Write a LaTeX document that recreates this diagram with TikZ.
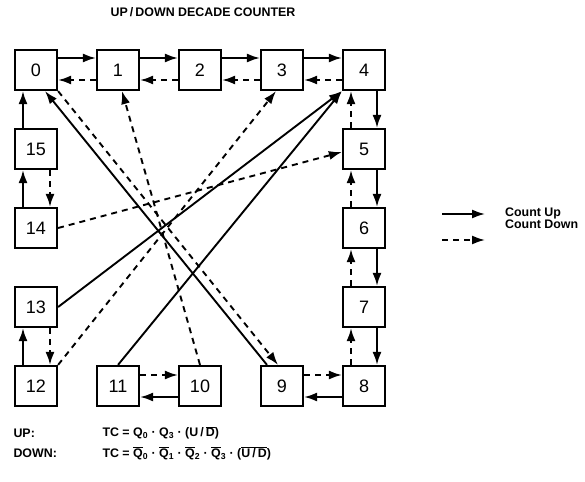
\documentclass[tikz,border=0pt]{standalone}
\usepackage{fontspec}
\setmainfont{Liberation Sans}
\usetikzlibrary{arrows.meta}

\begin{document}
\begin{tikzpicture}[x=1pt,y=-1pt,
  box/.style={draw, line width=2.2pt, fill=white, minimum width=42pt, minimum height=40pt, inner sep=0pt, font=\fontsize{18}{18}\selectfont},
  up/.style={line width=1.9pt, -{Latex[length=13pt,width=9pt]}},
  dn/.style={up, dash pattern=on 6pt off 5pt},
  lbl/.style={font=\bfseries\fontsize{12.4}{11.5}\selectfont}]
\useasboundingbox (0,0) rectangle (585,481);

\node[lbl] (title) at (203,12) {UP\,/\,DOWN DECADE COUNTER};

% top row
\node[box] (n0) at (36,70) {0};
\node[box] (n1) at (118,70) {1};
\node[box] (n2) at (200,70) {2};
\node[box] (n3) at (282,70) {3};
\node[box] (n4) at (364,70) {4};
% right column
\node[box] (n5) at (364,149) {5};
\node[box] (n6) at (364,228) {6};
\node[box] (n7) at (364,307) {7};
\node[box] (n8) at (364,386) {8};
% bottom row
\node[box] (n9) at (282,386) {9};
\node[box] (n10) at (200,386) {10};
\node[box] (n11) at (118,386) {11};
\node[box] (n12) at (36,386) {12};
% left column
\node[box] (n13) at (36,307) {13};
\node[box] (n14) at (36,228) {14};
\node[box] (n15) at (36,149) {15};

% count up along the top
\draw[up] ([yshift=12pt]n0.east) -- ([yshift=12pt]n1.west);
\draw[up] ([yshift=12pt]n1.east) -- ([yshift=12pt]n2.west);
\draw[up] ([yshift=12pt]n2.east) -- ([yshift=12pt]n3.west);
\draw[up] ([yshift=12pt]n3.east) -- ([yshift=12pt]n4.west);
\draw[dn] ([yshift=-10pt]n1.west) -- ([yshift=-10pt]n0.east);
\draw[dn] ([yshift=-10pt]n2.west) -- ([yshift=-10pt]n1.east);
\draw[dn] ([yshift=-10pt]n3.west) -- ([yshift=-10pt]n2.east);
\draw[dn] ([yshift=-10pt]n4.west) -- ([yshift=-10pt]n3.east);

% down the right side
\draw[up] ([xshift=13pt]n4.south) -- ([xshift=13pt]n5.north);
\draw[up] ([xshift=13pt]n5.south) -- ([xshift=13pt]n6.north);
\draw[up] ([xshift=13pt]n6.south) -- ([xshift=13pt]n7.north);
\draw[up] ([xshift=13pt]n7.south) -- ([xshift=13pt]n8.north);
\draw[dn] ([xshift=-13pt]n5.north) -- ([xshift=-13pt]n4.south);
\draw[dn] ([xshift=-13pt]n6.north) -- ([xshift=-13pt]n5.south);
\draw[dn] ([xshift=-13pt]n7.north) -- ([xshift=-13pt]n6.south);
\draw[dn] ([xshift=-13pt]n8.north) -- ([xshift=-13pt]n7.south);

% bottom pairs
\draw[up] ([yshift=-11pt]n8.west) -- ([yshift=-11pt]n9.east);
\draw[dn] ([yshift=11pt]n9.east) -- ([yshift=11pt]n8.west);
\draw[up] ([yshift=-11pt]n10.west) -- ([yshift=-11pt]n11.east);
\draw[dn] ([yshift=11pt]n11.east) -- ([yshift=11pt]n10.west);

% left side
\draw[up] ([xshift=-13pt]n12.north) -- ([xshift=-13pt]n13.south);
\draw[dn] ([xshift=14pt]n13.south) -- ([xshift=14pt]n12.north);
\draw[up] ([xshift=-13pt]n14.north) -- ([xshift=-13pt]n15.south);
\draw[dn] ([xshift=14pt]n15.south) -- ([xshift=14pt]n14.north);
\draw[up] ([xshift=-13pt]n15.north) -- ([xshift=-13pt]n0.south);

% jumps across the middle
\draw[up] ([xshift=-15pt]n9.north) -- ([xshift=9pt]n0.south);
\draw[dn] (n0.south east) -- ([xshift=-4pt]n9.north);
\draw[dn] (n10.north) -- ([xshift=4pt]n1.south);
\draw[up] (n11.north) -- (n4.south west);
\draw[up] (n13.east) -- (n4.south west);
\draw[dn] (n12.north east) -- ([xshift=-6pt]n3.south);
\draw[dn] (n14.east) -- ([yshift=-3pt]n5.west);

% key
\coordinate (ku0) at (442,214);
\coordinate (ku1) at (485,214);
\coordinate (kd0) at (442,240);
\coordinate (kd1) at (485,240);
\draw[up] (ku0) -- (ku1);
\draw[dn] (kd0) -- (kd1);
\node[lbl, anchor=west, align=left, inner sep=1pt] (key) at (504,218) {Count Up\\Count Down};

% terminal count
\node[lbl, anchor=west] (upl) at (10,433) {UP:};
\node[lbl, anchor=west] (dnl) at (10,453) {DOWN:};
\node[lbl, anchor=west] (tcup) at (99,433) {TC = Q\textsubscript{0} · Q\textsubscript{3} · (U\,/\,$\overline{\mbox{D}}$)};
\node[lbl, anchor=west] (tcdn) at (99,453) {TC = $\overline{\mbox{Q}}$\textsubscript{0} · $\overline{\mbox{Q}}$\textsubscript{1} · $\overline{\mbox{Q}}$\textsubscript{2} · $\overline{\mbox{Q}}$\textsubscript{3} · ($\overline{\mbox{U\,/\,D}}$)};
\end{tikzpicture}
\end{document}
